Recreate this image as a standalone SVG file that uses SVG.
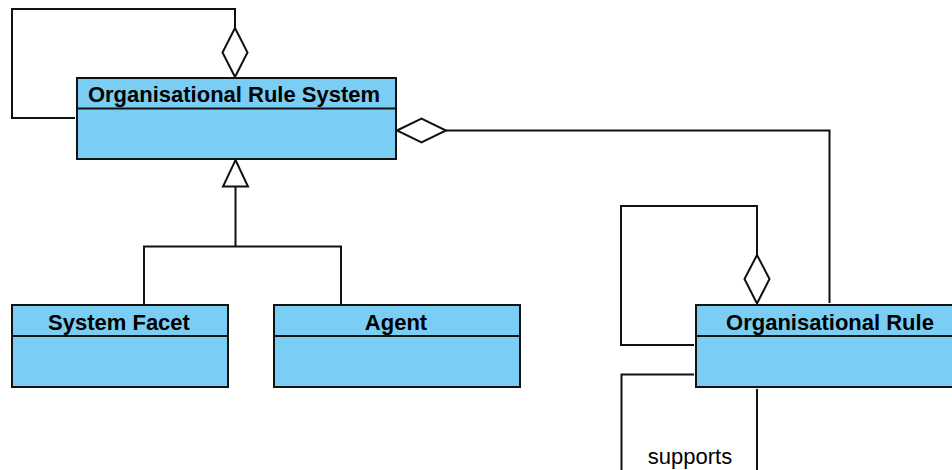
<svg xmlns="http://www.w3.org/2000/svg" width="952" height="470" viewBox="0 0 952 470">
<style>
.box{fill:#7acef4;stroke:#111;stroke-width:2}
.div{stroke:#111;stroke-width:2}
.title{font-family:"Liberation Sans",Arial,sans-serif;font-weight:bold;font-size:22px;fill:#000;text-anchor:middle}
.lbl{font-family:"Liberation Sans",Arial,sans-serif;font-size:22px;fill:#000;text-anchor:middle}
.ln{fill:none;stroke:#111;stroke-width:2}
.head{fill:#fff;stroke:#111;stroke-width:2;stroke-linejoin:miter}
</style>
<rect width="952" height="470" fill="#fff"/>
<g id="connectors">
  <path class="ln" d="M75 118 H12 V9 H235 V28"/>
  <polygon class="head" points="235,28 247.5,52.5 235,77 222.5,52.5"/>
  <path class="ln" d="M446 130.5 H829.5 V303"/>
  <polygon class="head" points="397,130.5 421.5,118.5 446,130.5 421.5,142.5"/>
  <path class="ln" d="M235.5 186.5 V246.5 M144 304 V246.5 H341 V304"/>
  <polygon class="head" points="235.5,160 248,186.5 223,186.5"/>
  <path class="ln" d="M694 345 H621 V206 H757 V255"/>
  <polygon class="head" points="757,255 769.5,279 757,303.5 744.5,279"/>
  <path class="ln" d="M694 374.5 H621.5 V470 M757 389 V470"/>
  <text class="lbl" x="690" y="464">supports</text>
</g>
<g id="organisational-rule-system">
  <rect class="box" x="77" y="78" width="319" height="81"/>
  <line class="div" x1="77" y1="108.5" x2="396" y2="108.5"/>
  <text class="title" x="234" y="102">Organisational Rule System</text>
</g>
<g id="system-facet">
  <rect class="box" x="12" y="305" width="216" height="82"/>
  <line class="div" x1="12" y1="336" x2="228" y2="336"/>
  <text class="title" x="119" y="329.5">System Facet</text>
</g>
<g id="agent">
  <rect class="box" x="274" y="305" width="246" height="82"/>
  <line class="div" x1="274" y1="336" x2="520" y2="336"/>
  <text class="title" x="396" y="329.5">Agent</text>
</g>
<g id="organisational-rule">
  <rect class="box" x="696" y="305" width="268" height="82"/>
  <line class="div" x1="696" y1="336" x2="964" y2="336"/>
  <text class="title" x="830" y="329.5">Organisational Rule</text>
</g>
</svg>
